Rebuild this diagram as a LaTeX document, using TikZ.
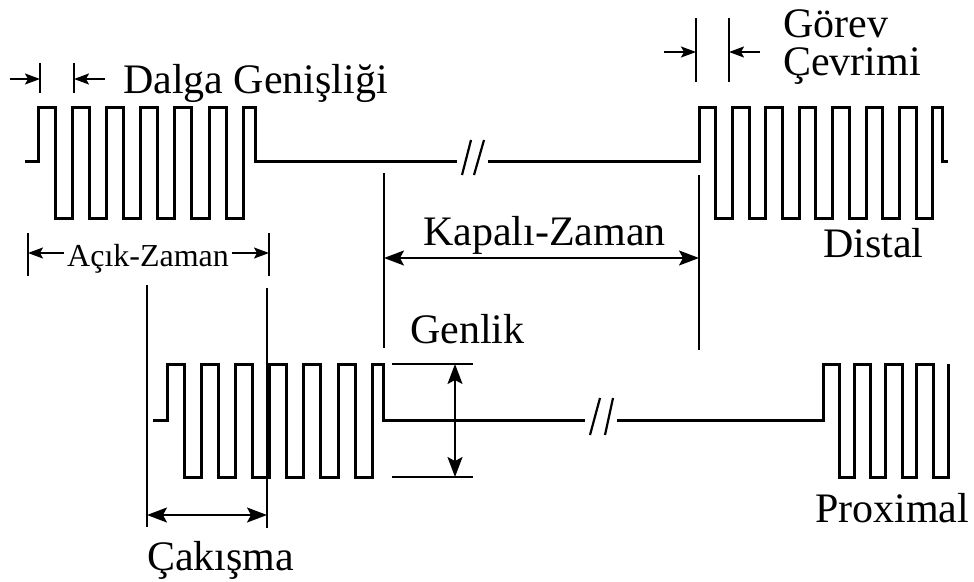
\documentclass[tikz,border=0pt]{standalone}
\usepackage{fontspec}
\setmainfont{Liberation Serif}
\usetikzlibrary{arrows.meta,positioning}
\tikzset{
  wave/.style={line width=3pt,line join=miter},
  brk/.style={line width=2.2pt},
  dim/.style={line width=1.7pt},
  ar/.style={-{Stealth[length=15pt,width=11pt,inset=3pt]},line width=1.7pt},
  dar/.style={{Stealth[length=20pt,width=15pt,inset=4pt]}-{Stealth[length=20pt,width=15pt,inset=4pt]},line width=1.7pt},
  lbl/.style={font=\fontsize{42}{46}\selectfont,inner sep=0pt,anchor=base west},
  slbl/.style={font=\fontsize{32}{35}\selectfont,inner sep=0pt,anchor=base west}
}

\begin{document}
\begin{tikzpicture}[x=1pt,y=-1pt]
\useasboundingbox (0,0) rectangle (974,581);
\def\ph{17.1}\def\qh{16.7}
% distal train
\draw[wave] (25,161) -| (38,107)
  foreach \k in {0,...,5}{ -- ++(\ph,0) -- ++(0,111) -- ++(\ph,0) -- ++(0,-111) }
  -- ++(12,0) |- (457,161);
\draw[brk] (462,175) -- (471,140) (474,175) -- (484,140);
\draw[wave] (488,161) -| (699,107)
  foreach \k in {0,...,6}{ -- ++(\qh,0) -- ++(0,111) -- ++(\qh,0) -- ++(0,-111) }
  -- ++(10,0) |- (948,161);
% proximal train
\draw[wave] (153,420) -| (167,364)
  foreach \k in {0,...,5}{ -- ++(\ph,0) -- ++(0,113) -- ++(\ph,0) -- ++(0,-113) }
  -- ++(11,0) |- (585,420);
\draw[brk] (590,435) -- (600,398) (605,435) -- (613,398);
\draw[wave] (617,420) -| (823,364)
  foreach \k in {0,...,3}{ -- ++(16.5,0) -- ++(0,113) -- ++(14.8,0) -- ++(0,-113) };

% labels
\node[lbl] (dalga) at (123,93) {Dalga Genişliği};
\node[lbl] (gorev) at (783,37) {Görev};
\node[lbl] (cevrim) at (783,75) {Çevrimi};
\node[lbl] (kapali) at (423,245) {Kapalı-Zaman};
\node[lbl] (distal) at (823,257) {Distal};
\node[slbl] (acik) at (67,266) {Açık-Zaman};
\node[lbl] (genlik) at (410,343) {Genlik};
\node[lbl] (proximal) at (815,522) {Proximal};
\node[lbl] (cakisma) at (147,570) {Çakışma};

% pulse width
\coordinate (dg1) at (40,79);
\coordinate (dg2) at (74,79);
\draw[dim] (40,63) -- (40,93) (74,63) -- (74,93);
\draw[ar] (10,79) -- (dg1);
\draw[ar] (105,79) -- (dg2);
% duty cycle
\coordinate (gc1) at (696,52);
\coordinate (gc2) at (729,52);
\draw[dim] (696,18) -- (696,82) (729,18) -- (729,82);
\draw[ar] (664,52) -- (gc1);
\draw[ar] (760,52) -- (gc2);
% on time
\coordinate (ak1) at (28,253);
\coordinate (ak2) at (269,253);
\draw[dim] (28,233) -- (28,276) (269,233) -- (269,276);
\draw[ar,shorten <=3pt] (acik.west |- ak1) -- (ak1);
\draw[ar,shorten <=3pt] (acik.east |- ak2) -- (ak2);
% off time
\coordinate (kz1) at (384,258);
\coordinate (kz2) at (699,258);
\draw[dim] (384,173) -- (384,348) (699,175) -- (699,350);
\draw[dar] (kz1) -- (kz2);
% overlap
\coordinate (cz1) at (147,515);
\coordinate (cz2) at (267,515);
\draw[dim] (147,285) -- (147,527) (267,288) -- (267,528);
\draw[dar] (cz1) -- (cz2);
% amplitude
\coordinate (gl1) at (455,364);
\coordinate (gl2) at (455,477);
\draw[dim] (392,364) -- (473,364) (392,477) -- (473,477);
\draw[dar] (gl1) -- (gl2);
\end{tikzpicture}
\end{document}
